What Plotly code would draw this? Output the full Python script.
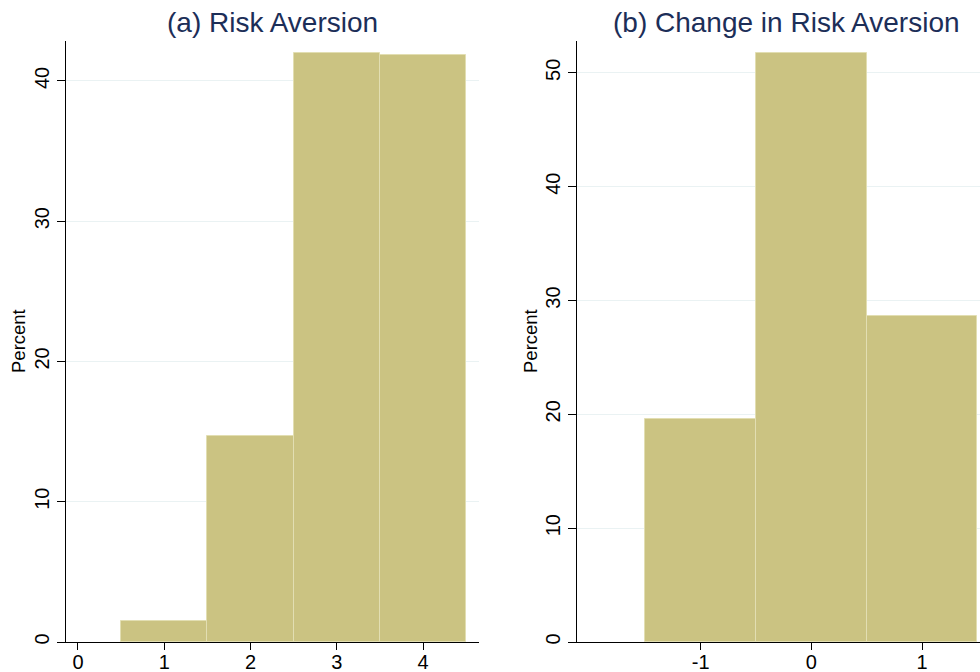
import plotly.graph_objects as go

# Panel (a): Risk Aversion
risk_levels = [1, 2, 3, 4]
risk_percent = [1.5, 14.7, 42.0, 41.85]
risk_ticks = [0, 1, 2, 3, 4]
risk_ticktext = ["0", "1", "2", "3", "4"]

# Panel (b): Change in Risk Aversion
change_levels = [-1, 0, 1]
change_percent = [19.6, 51.75, 28.65]
change_ticks = [-1, 0, 1]
change_ticktext = ["-1", "0", "1"]

titles = ["(a) Risk Aversion", "(b) Change in Risk Aversion"]
y_label = "Percent"

bar_color = "rgb(203,195,130)"
bar_line = "rgb(226,222,178)"
grid_color = "rgb(234,242,243)"
title_color = "rgb(28,46,88)"
FONT = "Liberation Sans, Arial, sans-serif"

fig = go.Figure()
fig.add_trace(go.Bar(x=risk_levels, y=risk_percent, width=1,
                     marker=dict(color=bar_color, line=dict(color=bar_line, width=1)),
                     xaxis="x", yaxis="y", showlegend=False))
fig.add_trace(go.Bar(x=change_levels, y=change_percent, width=1,
                     marker=dict(color=bar_color, line=dict(color=bar_line, width=1)),
                     xaxis="x2", yaxis="y2", showlegend=False))

W, H = 980, 672
T, B = 41, 30
PH = H - T - B
axis_common = dict(showline=True, linecolor="black", linewidth=1, ticks="outside",
                   tickcolor="black", ticklen=8, tickwidth=1,
                   tickfont=dict(family=FONT, size=20, color="black"),
                   zeroline=False, automargin=False)
x_common = dict(axis_common, ticklen=7, ticklabelstandoff=-5)

fig.update_layout(
    width=W, height=H,
    margin=dict(l=0, r=0, t=T, b=B, autoexpand=False),
    paper_bgcolor="white", plot_bgcolor="white",
    bargap=0, showlegend=False,
    font=dict(family=FONT),
    xaxis=dict(domain=[66 / W, 479 / W], range=[-0.139, 4.649],
               tickvals=risk_ticks, ticktext=risk_ticktext, showgrid=False,
               anchor="y", **x_common),
    yaxis=dict(domain=[0, 1], range=[0, 42.85], tickvals=[0, 10, 20, 30, 40],
               tickangle=-90, showgrid=True, gridcolor=grid_color, gridwidth=1,
               anchor="x", **axis_common),
    xaxis2=dict(domain=[577 / W, 1.0], range=[-2.117, 1.524],
                tickvals=change_ticks, ticktext=change_ticktext, showgrid=False,
                anchor="y2", **x_common),
    yaxis2=dict(domain=[0, 1], range=[0, 52.8], tickvals=[0, 10, 20, 30, 40, 50],
                tickangle=-90, showgrid=True, gridcolor=grid_color, gridwidth=1,
                anchor="x2", **axis_common),
)

def py(pix):
    return (H - B - pix) / PH

# Subplot titles
fig.add_annotation(text=titles[0], x=272 / W, y=py(22), xref="paper", yref="paper",
                   showarrow=False, xanchor="center", yanchor="middle",
                   font=dict(family=FONT, size=28, color=title_color))
fig.add_annotation(text=titles[1], x=786 / W, y=py(22), xref="paper", yref="paper",
                   showarrow=False, xanchor="center", yanchor="middle",
                   font=dict(family=FONT, size=28, color=title_color))

# Y axis titles
for xp in (18, 530):
    fig.add_annotation(text=y_label, x=xp / W, y=py(341), xref="paper", yref="paper",
                       showarrow=False, xanchor="center", yanchor="middle", textangle=-90,
                       font=dict(family=FONT, size=18.5, color="black"))

fig.write_html("out.html", config={"displayModeBar": False},
               post_script="document.body.style.margin='0';")
